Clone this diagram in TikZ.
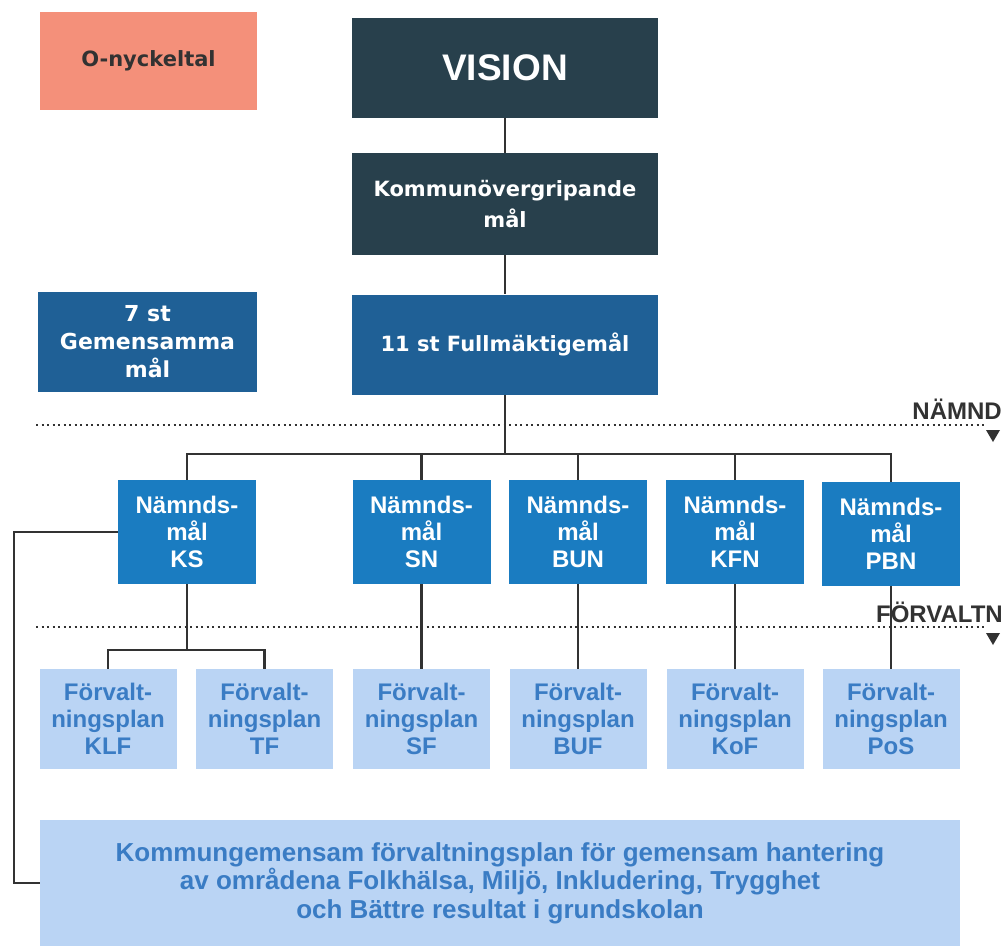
\documentclass[tikz,border=0pt]{standalone}
\usepackage{fontspec}
\setmainfont{Liberation Sans}
\newfontfamily\widefam{DejaVu Sans}
\definecolor{salmon}{RGB}{244,144,122}
\definecolor{slate}{RGB}{40,64,76}
\definecolor{fmblue}{RGB}{31,96,150}
\definecolor{nmblue}{RGB}{26,124,193}
\definecolor{fvblue}{RGB}{186,212,244}
\definecolor{fvtext}{RGB}{58,124,196}
\definecolor{linegray}{RGB}{50,50,50}

\begin{document}
\begin{tikzpicture}[x=1pt,y=-1pt,
		box/.style={inner sep=0pt, align=center},
		topbox/.style={box, fill=slate, text=white, minimum width=306, minimum height=100},
		fmbox/.style={box, fill=fmblue, text=white, minimum height=100, font=\widefam\bfseries\fontsize{21}{27}\selectfont},
		nmbox/.style={box, fill=nmblue, text=white, minimum width=138, minimum height=104, font=\bfseries\fontsize{24}{27}\selectfont},
		fvbox/.style={box, fill=fvblue, text=fvtext, minimum width=137, minimum height=100, font=\bfseries\fontsize{24}{27}\selectfont},
		line/.style={draw=linegray, line width=2.2pt},
		dotline/.style={draw=linegray, line width=2pt, dash pattern=on 2pt off 3.5pt},
		levellabel/.style={anchor=east, inner sep=0pt, text=linegray, font=\bfseries\fontsize{24}{27}\selectfont}]
	\useasboundingbox[fill=white] (0,0) rectangle (1004,946);
	
	% Top boxes
	\node[box, fill=salmon, text=linegray, minimum width=217, minimum height=98, font=\widefam\bfseries\fontsize{21}{27}\selectfont] (onyckel) at (148.5,61) {O-nyckeltal};
	\node[topbox, font=\bfseries\fontsize{37}{40}\selectfont] (vision) at (505,67.5) {VISION};
	\node[topbox, minimum height=102, font=\widefam\bfseries\fontsize{21}{31}\selectfont] (kommun) at (505,204) {Kommunövergripande\\mål};
	\node[fmbox, minimum width=219, font=\widefam\bfseries\fontsize{22}{28}\selectfont] (gemensam) at (147.5,342) {7 st\\Gemensamma\\mål};
	\node[fmbox, minimum width=306] (fullm) at (505,344.5) {11 st Fullmäktigemål};
	
	% Levels
	\draw[dotline] (36,425) -- (984,425);
	\draw[dotline] (36,627) -- (984,627);
	\node[levellabel] (namnd) at (1002,409) {NÄMND};
	\node[levellabel] (forvaltn) at (1003,612) {FÖRVALTN};
	\fill[linegray] (986,430) -- (1000,430) -- (993,442) -- cycle;
	\fill[linegray] (986,633) -- (1000,633) -- (993,645) -- cycle;
	
	% Nämndsmål
	\node[nmbox] (ks) at (187,532) {Nämnds-\\mål\\KS};
	\node[nmbox] (sn) at (421.5,532) {Nämnds-\\mål\\SN};
	\node[nmbox] (bun) at (578,532) {Nämnds-\\mål\\BUN};
	\node[nmbox] (kfn) at (735,532) {Nämnds-\\mål\\KFN};
	\node[nmbox] (pbn) at (891,534) {Nämnds-\\mål\\PBN};
	
	% Förvaltningsplaner
	\node[fvbox] (klf) at (108,719) {Förvalt-\\ningsplan\\KLF};
	\node[fvbox] (tf) at (264.5,719) {Förvalt-\\ningsplan\\TF};
	\node[fvbox] (sf) at (421.5,719) {Förvalt-\\ningsplan\\SF};
	\node[fvbox] (buf) at (578,719) {Förvalt-\\ningsplan\\BUF};
	\node[fvbox] (kof) at (735,719) {Förvalt-\\ningsplan\\KoF};
	\node[fvbox] (pos) at (891,719) {Förvalt-\\ningsplan\\PoS};
	\node[box, fill=fvblue, text=fvtext, minimum width=920, minimum height=126, font=\bfseries\fontsize{26}{28.5}\selectfont] (gemplan) at (500,883) {Kommungemensam förvaltningsplan för gemensam hantering\\av områdena Folkhälsa, Miljö, Inkludering, Trygghet\\och Bättre resultat i grundskolan};
	
	% Connectors
	\coordinate (split) at (505,454);
	\coordinate (kssplit) at (187,650);
	\coordinate (leftrail) at (14,0);
	\draw[line] (vision) -- (kommun);
	\draw[line] (kommun) -- (fullm);
	\draw[line] (fullm) -- (split);
	\draw[line] (ks.north) |- (split) -| (pbn.north);
	\foreach \n in {sn,bun,kfn}
		\draw[line] (\n.north) -- (\n.north |- split);
	\draw[line] (ks) -- (kssplit);
	\draw[line] (klf.north) |- (kssplit) -| (tf.north);
	\draw[line] (sn) -- (sf);
	\draw[line] (bun) -- (buf);
	\draw[line] (kfn) -- (kof);
	\draw[line] (pbn) -- (pos);
	\draw[line] (ks.west) -- (ks.west -| leftrail) |- (gemplan.west);
\end{tikzpicture}
\end{document}
